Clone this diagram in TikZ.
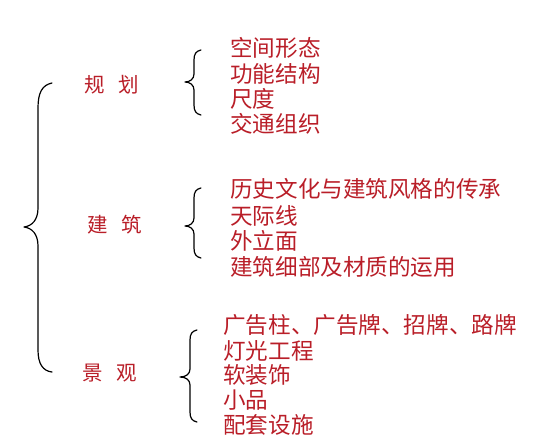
\documentclass[tikz,border=0pt]{standalone}
\usepackage{fontspec}
\newfontfamily\cjk{Noto Sans CJK SC}
\definecolor{txtred}{RGB}{185,30,40}
\tikzset{
  x=1pt,y=1pt,
  item/.style={anchor=west,inner sep=0pt,text=txtred,font=\cjk\fontsize{22.6}{24}\selectfont},
  cat/.style={anchor=center,inner sep=0pt,text=txtred,font=\cjk\fontsize{20.5}{22}\selectfont},
  bracestyle/.style={draw=black,line width=1.2pt,line cap=round,line join=round}
}
\begin{document}
\begin{tikzpicture}
\useasboundingbox (0,0) rectangle (542,-437);
% big brace
\draw[bracestyle] (52,-83) .. controls (42,-85) and (38,-93) .. (38,-108) -- (38,-208)
  .. controls (38,-220) and (32,-226) .. (24,-227)
  .. controls (32,-228) and (38,-234) .. (38,-246) -- (38,-350)
  .. controls (38,-364) and (43,-371) .. (52,-372);
% small braces
\draw[bracestyle] (201,-50) .. controls (196,-51) and (194,-54) .. (194,-60) -- (194,-74)
  .. controls (194,-79) and (190,-82) .. (185,-82)
  .. controls (190,-82) and (194,-85) .. (194,-90) -- (194,-105)
  .. controls (194,-111) and (196,-114) .. (201,-115);
\draw[bracestyle] (201,-188) .. controls (196,-189) and (194,-192) .. (194,-198) -- (194,-218)
  .. controls (194,-223) and (190,-226) .. (185,-226)
  .. controls (190,-226) and (194,-229) .. (194,-234) -- (194,-248)
  .. controls (194,-254) and (196,-257) .. (201,-258);
\draw[bracestyle] (197,-330) .. controls (192,-331) and (190,-334) .. (190,-340) -- (190,-369)
  .. controls (190,-374) and (186,-377) .. (180,-377)
  .. controls (186,-377) and (190,-380) .. (190,-385) -- (190,-412)
  .. controls (190,-418) and (192,-421) .. (197,-422);
% categories
\node[cat] (c1) at (112,-85) {规\hspace{14pt}划};
\node[cat] (c2) at (115,-225) {建\hspace{14pt}筑};
\node[cat] (c3) at (110,-373) {景\hspace{14pt}观};
% group 1
\node[item] (a1) at (230,-48) {空间形态};
\node[item] (a2) at (230,-74) {功能结构};
\node[item] (a3) at (230,-99) {尺度};
\node[item] (a4) at (230,-124) {交通组织};
% group 2
\node[item] (b1) at (230,-189) {历史文化与建筑风格的传承};
\node[item] (b2) at (230,-216) {天际线};
\node[item] (b3) at (230,-241) {外立面};
\node[item] (b4) at (230,-267) {建筑细部及材质的运用};
% group 3
\node[item] (d1) at (223,-325) {广告柱、广告牌、招牌、路牌};
\node[item] (d2) at (223,-351) {灯光工程};
\node[item] (d3) at (223,-375) {软装饰};
\node[item] (d4) at (223,-400) {小品};
\node[item] (d5) at (223,-425) {配套设施};
\end{tikzpicture}
\end{document}
